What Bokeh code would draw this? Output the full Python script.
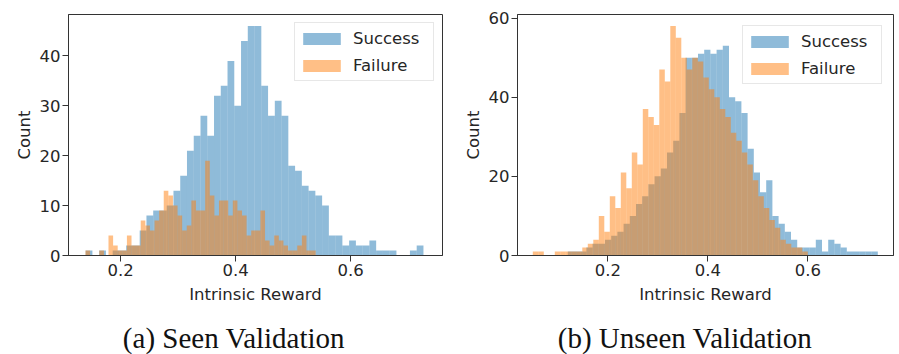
import numpy as np
from bokeh.plotting import figure
from bokeh.models import Range1d, FixedTicker, Legend, LegendItem
from bokeh.core.properties import value
from bokeh.layouts import row, column
from bokeh.embed import file_html
from bokeh.resources import INLINE

# ---------------- data ----------------
intrinsic_ticks = [0.2, 0.4, 0.6]
seen_count_ticks = [0, 10, 20, 30, 40]
unseen_count_ticks = [0, 20, 40, 60]
series_names = ["Success", "Failure"]
captions = ["(a) Seen Validation", "(b) Unseen Validation"]

# (a) Seen validation: 50-bin histograms, (min, max) of each series
seen_success_range = (0.1394, 0.7264)
seen_success_counts = [1, 0, 1, 0, 1, 1, 2, 2, 5, 8,
                       9, 9, 10, 13, 16, 21, 24, 28, 24, 32,
                       34, 39, 30, 43, 46, 46, 34, 28, 31, 28,
                       18, 17, 14, 13, 12, 10, 4, 4, 2, 3,
                       2, 2, 3, 1, 1, 1, 0, 0, 1, 2]
seen_failure_range = (0.1391, 0.5391)
seen_failure_counts = [1, 0, 0, 1, 0, 4, 2, 1, 1, 4,
                       2, 2, 7, 6, 5, 7, 9, 13, 12, 10,
                       8, 5, 6, 11, 9, 9, 19, 12, 8, 11,
                       11, 8, 11, 9, 8, 4, 5, 5, 9, 3,
                       2, 4, 3, 2, 1, 1, 2, 4, 1, 1]

# (b) Unseen validation
unseen_success_range = (0.12, 0.74)
unseen_success_counts = [1, 1, 1, 2, 3, 3, 4, 5, 6, 8,
                         10, 13, 15, 18, 20, 22, 26, 29, 36, 50,
                         50, 51, 52, 51, 52, 53, 40, 39, 36, 27,
                         21, 16, 19, 10, 8, 6, 4, 2, 2, 2,
                         4, 1, 4, 3, 2, 1, 1, 1, 1, 1]
unseen_failure_range = (0.05, 0.60)
unseen_failure_counts = [1, 1, 0, 0, 1, 1, 1, 1, 1, 2,
                         3, 4, 10, 6, 15, 12, 21, 17, 26, 23,
                         37, 35, 33, 47, 44, 58, 55, 50, 47, 50,
                         49, 45, 42, 40, 37, 35, 31, 29, 26, 23,
                         19, 15, 12, 9, 7, 4, 3, 2, 2, 1]

# ---------------- style ----------------
BLUE = "#1f77b4"
ORANGE = "#ff7f0e"
DARK = "#333333"
TXT = "#262626"
FONT = "DejaVu Sans"
FS = "16.5px"
PLOT_H = 314
CAP_H = 40


def hist_quad(p, rng, counts, color):
    edges = np.linspace(rng[0], rng[1], len(counts) + 1)
    return p.quad(left=edges[:-1], right=edges[1:], bottom=0, top=counts,
                  fill_color=color, fill_alpha=0.5, line_color=None)


def make_panel(width, x_rng, y_rng, yticks, succ, fail,
               b_left, b_right, b_top, leg_margin):
    p = figure(width=width, height=PLOT_H, x_range=Range1d(*x_rng),
               y_range=Range1d(*y_rng), output_backend="svg",
               toolbar_location=None, min_border_left=b_left,
               min_border_right=b_right, min_border_top=b_top,
               min_border_bottom=59)
    p.grid.visible = False
    p.outline_line_color = DARK
    p.outline_line_width = 1
    p.background_fill_color = "white"
    p.border_fill_color = "white"

    r1 = hist_quad(p, succ[0], succ[1], BLUE)
    r2 = hist_quad(p, fail[0], fail[1], ORANGE)

    p.xaxis.ticker = FixedTicker(ticks=intrinsic_ticks)
    p.yaxis.ticker = FixedTicker(ticks=yticks)
    p.xaxis.axis_label = "Intrinsic Reward"
    p.yaxis.axis_label = "Count"
    for ax in (p.xaxis[0], p.yaxis[0]):
        ax.major_tick_out = 6
        ax.major_tick_in = 0
        ax.minor_tick_out = 0
        ax.minor_tick_in = 0
        ax.axis_line_color = DARK
        ax.major_tick_line_color = DARK
        ax.major_label_text_font = FONT
        ax.major_label_text_font_size = FS
        ax.major_label_text_color = TXT
        ax.major_label_standoff = 2
        ax.axis_label_text_font = FONT
        ax.axis_label_text_font_size = FS
        ax.axis_label_text_font_style = "normal"
        ax.axis_label_text_color = TXT
        ax.axis_label_standoff = 3
    p.xaxis[0].axis_label_standoff = 6

    legend = Legend(items=[LegendItem(label=series_names[0], renderers=[r1]),
                           LegendItem(label=series_names[1], renderers=[r2])],
                    location="top_right", margin=leg_margin, padding=3,
                    spacing=3, glyph_width=47, glyph_height=15,
                    label_standoff=8, label_width=77, label_height=24,
                    label_text_font=FONT, label_text_font_size=FS,
                    label_text_color=TXT, border_line_color="#d0d0d0",
                    border_line_width=1, background_fill_alpha=0.8)
    p.add_layout(legend)
    return p


def make_caption(width, text, center_px):
    c = figure(width=width, height=CAP_H, x_range=Range1d(0, width),
               y_range=Range1d(0, CAP_H), output_backend="svg",
               toolbar_location=None, min_border=0)
    c.axis.visible = False
    c.grid.visible = False
    c.outline_line_color = None
    c.border_fill_color = "white"
    c.text(x=[center_px], y=[17], text=[text], text_align="center",
           text_baseline="middle", text_font=value("Liberation Serif"),
           text_font_size="29px", text_color="#111111")
    return c


p1 = make_panel(452, (0.1096, 0.7595), (0, 48.3), seen_count_ticks,
                (seen_success_range, seen_success_counts),
                (seen_failure_range, seen_failure_counts),
                68, 10, 13, 8)
p2 = make_panel(447, (0.0194, 0.7714), (0, 60.9), unseen_count_ticks,
                (unseen_success_range, unseen_success_counts),
                (unseen_failure_range, unseen_failure_counts),
                65, 6, 14, 11)
c1 = make_caption(452, captions[0], 233.5)
c2 = make_caption(447, captions[1], 684.5 - 452)

layout = column(row(p1, p2), row(c1, c2))
open("out.html", "w").write(file_html(layout, INLINE))
